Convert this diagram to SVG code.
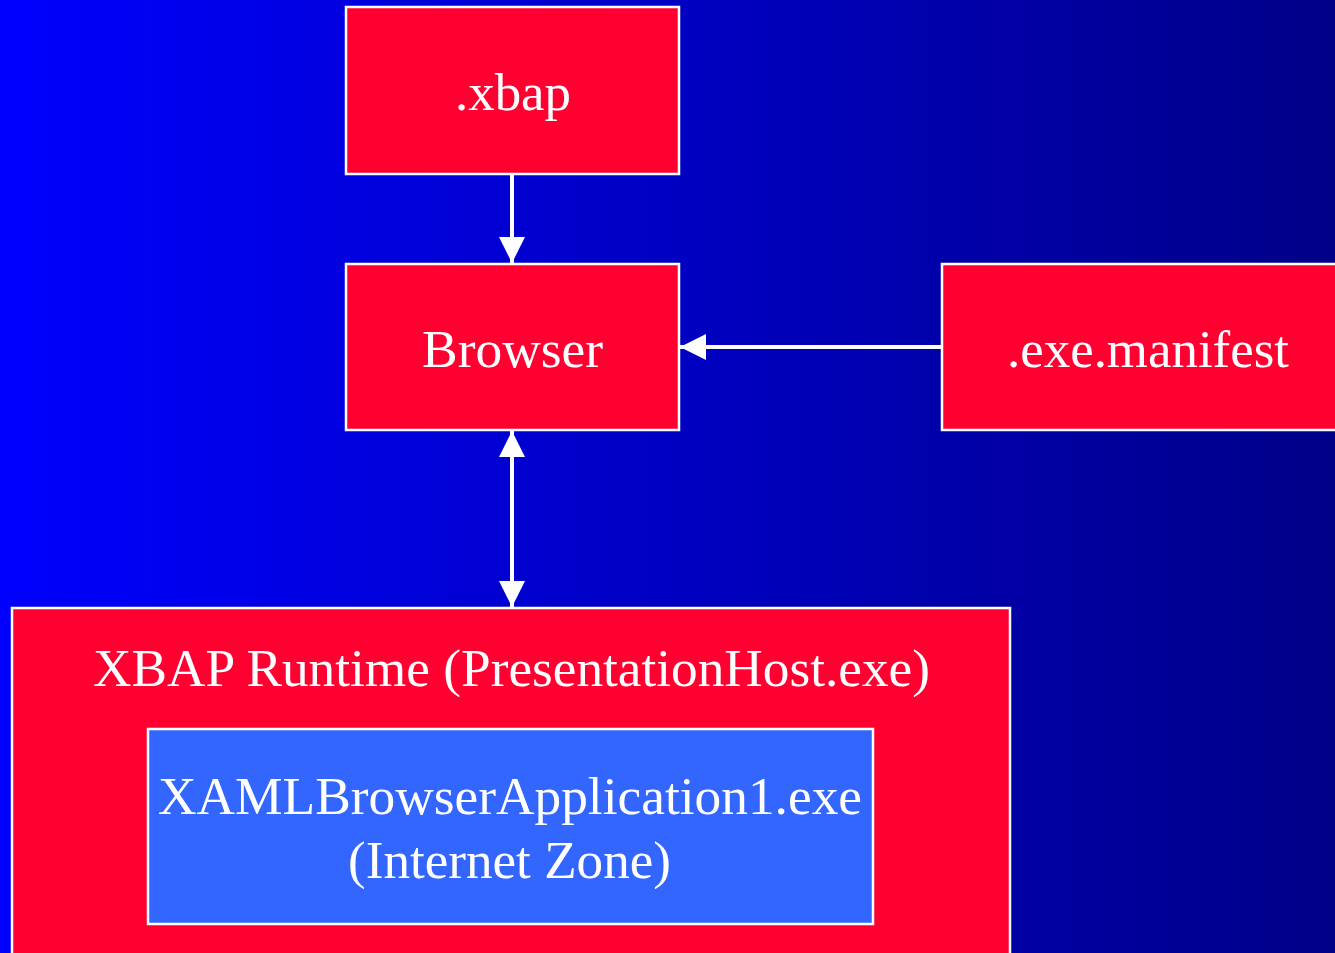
<svg xmlns="http://www.w3.org/2000/svg" width="1335" height="953" viewBox="0 0 1335 953">
<defs>
<linearGradient id="bg" x1="0" y1="0" x2="1" y2="0">
<stop offset="0" stop-color="#0000FF"/>
<stop offset="1" stop-color="#000088"/>
</linearGradient>
<marker id="ah" viewBox="0 0 26 30" refX="26" refY="15" markerWidth="26" markerHeight="30" markerUnits="userSpaceOnUse" orient="auto-start-reverse">
<path d="M0,2 L26,15 L0,28 Z" fill="#FFFFFF"/>
</marker>
<style>
.box{fill:#FF0030;stroke:#FFFFFF;stroke-width:2.5}
.inner{fill:#3366FF;stroke:#FFFFFF;stroke-width:2.5}
.t{fill:#FFFFFF;font-family:"Liberation Serif","Times New Roman",serif;font-size:52px;text-anchor:middle}
.c{stroke:#FFFFFF;stroke-width:4;fill:none}
</style>
</defs>
<rect x="0" y="0" width="1335" height="953" fill="url(#bg)"/>
<g id="xbap">
<rect class="box" x="346" y="7" width="333" height="167"/>
<text class="t" x="513" y="110" textLength="116" lengthAdjust="spacingAndGlyphs">.xbap</text>
</g>
<g id="browser">
<rect class="box" x="346" y="264" width="333" height="166"/>
<text class="t" x="512.5" y="367" textLength="181" lengthAdjust="spacingAndGlyphs">Browser</text>
</g>
<g id="manifest">
<rect class="box" x="942" y="264" width="400" height="166"/>
<text class="t" x="1148" y="367" textLength="282" lengthAdjust="spacingAndGlyphs">.exe.manifest</text>
</g>
<g id="runtime">
<rect class="box" x="12" y="608" width="998" height="360"/>
<text class="t" x="511.5" y="686" textLength="837" lengthAdjust="spacingAndGlyphs">XBAP Runtime (PresentationHost.exe)</text>
</g>
<g id="app">
<rect class="inner" x="148" y="729" width="725" height="195"/>
<text class="t" x="510" y="814" textLength="704" lengthAdjust="spacingAndGlyphs">XAMLBrowserApplication1.exe</text>
<text class="t" x="509.5" y="878" textLength="323" lengthAdjust="spacingAndGlyphs">(Internet Zone)</text>
</g>
<g id="connectors">
<line class="c" x1="512" y1="175" x2="512" y2="263" marker-end="url(#ah)"/>
<line class="c" x1="941" y1="347" x2="680" y2="347" marker-end="url(#ah)"/>
<line class="c" x1="512" y1="431" x2="512" y2="607" marker-start="url(#ah)" marker-end="url(#ah)"/>
</g>
</svg>
